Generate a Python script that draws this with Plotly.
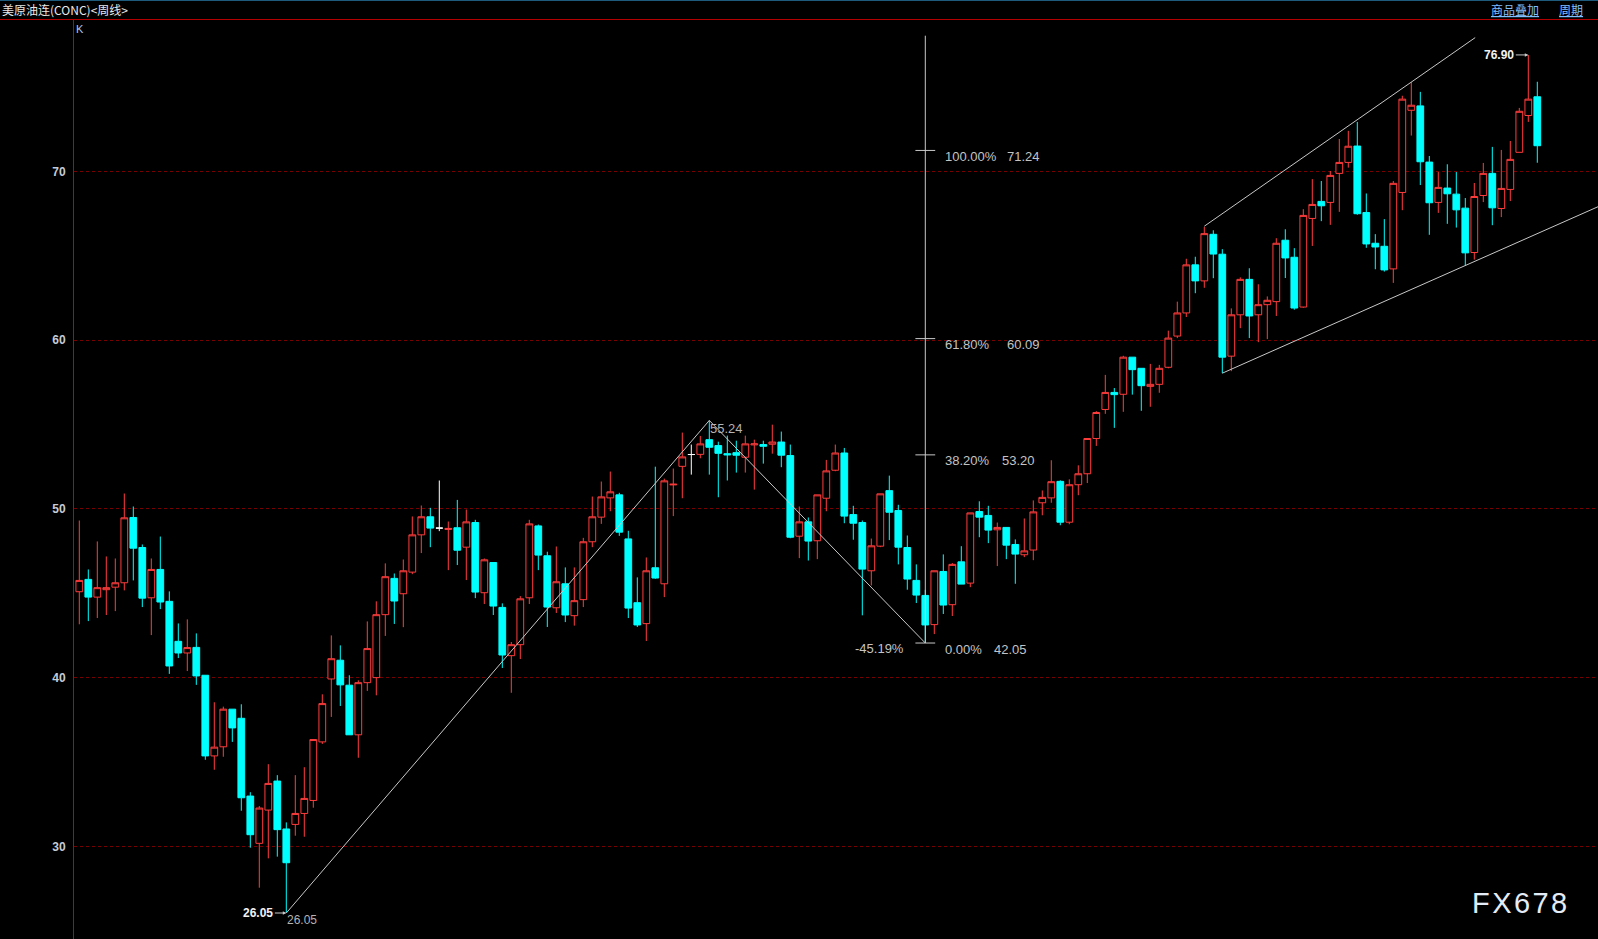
import plotly.graph_objects as go

# ---------------- data (weekly OHLC) ----------------
opens = [45.09, 45.82, 44.77, 45.21, 45.36, 45.62, 49.49, 47.71, 44.73, 46.41,
         44.52, 42.15, 41.46, 41.79, 40.14, 35.36, 35.90, 38.13, 37.59, 32.98,
         30.18, 32.15, 33.87, 31.03, 31.30, 31.95, 32.72, 36.19, 39.92, 41.03,
         39.55, 36.61, 39.70, 40.00, 43.73, 45.88, 44.97, 46.25, 48.46, 49.53,
         48.86, 48.78, 48.88, 47.73, 49.19, 45.03, 46.82, 44.16, 41.30, 41.95,
         44.73, 48.99, 47.22, 44.14, 45.56, 43.67, 44.62, 48.05, 49.51, 50.65,
         50.83, 48.22, 44.44, 43.20, 46.51, 45.56, 51.42, 52.52, 53.22, 53.23,
         54.10, 53.75, 53.27, 53.33, 53.06, 53.79, 53.81, 53.83, 53.96, 53.16,
         48.38, 49.23, 48.11, 50.63, 52.29, 53.31, 49.66, 49.19, 46.33, 47.79,
         51.08, 49.90, 47.71, 45.76, 44.87, 43.14, 46.29, 44.32, 46.86, 45.60,
         49.84, 49.61, 48.76, 48.90, 47.89, 47.28, 47.56, 50.36, 50.65, 51.63,
         49.21, 51.43, 52.08, 54.17, 55.89, 56.90, 56.79, 58.99, 58.33, 57.26,
         57.38, 58.39, 60.24, 61.61, 64.46, 63.51, 66.27, 65.09, 59.05, 61.50,
         63.60, 61.50, 62.10, 62.28, 65.92, 64.91, 61.96, 67.21, 68.22, 68.16,
         69.88, 70.53, 71.50, 67.56, 65.74, 65.56, 64.22, 68.75, 73.62, 73.88,
         70.55, 68.16, 69.01, 68.65, 67.82, 65.19, 68.57, 69.88, 67.80, 68.93,
         71.13, 73.31, 74.42]
highs = [49.31, 46.41, 48.07, 47.18, 47.06, 50.91, 50.14, 47.89, 47.06, 48.36,
         45.11, 43.21, 43.45, 42.62, 40.14, 38.54, 38.28, 38.13, 38.42, 33.21,
         32.39, 34.87, 34.22, 31.42, 34.22, 34.69, 36.33, 39.01, 42.50, 41.91,
         40.14, 39.84, 43.33, 44.52, 46.77, 46.17, 47.00, 49.55, 50.20, 50.06,
         51.68, 49.25, 50.53, 49.96, 49.35, 47.06, 46.82, 44.40, 42.11, 44.83,
         49.35, 49.07, 47.46, 47.77, 46.53, 46.53, 48.28, 50.73, 51.62, 52.21,
         50.95, 48.70, 45.94, 47.12, 52.50, 51.79, 52.39, 54.52, 53.81, 54.32,
         55.24, 53.98, 54.34, 54.04, 54.34, 54.10, 54.04, 54.99, 54.58, 53.81,
         50.14, 49.49, 50.83, 52.90, 53.81, 53.61, 50.18, 49.31, 48.24, 50.89,
         51.97, 50.24, 48.42, 46.71, 45.20, 46.33, 47.30, 46.79, 47.79, 49.76,
         50.45, 50.18, 49.19, 48.90, 48.19, 49.43, 50.50, 51.09, 52.88, 51.69,
         51.75, 52.58, 54.17, 55.79, 57.94, 57.16, 59.07, 58.99, 58.33, 58.59,
         58.53, 60.56, 62.28, 64.82, 64.94, 66.71, 66.51, 65.39, 61.88, 63.72,
         64.26, 63.31, 62.59, 66.04, 66.57, 65.45, 67.76, 69.54, 69.43, 70.02,
         71.92, 72.40, 72.93, 68.69, 66.28, 67.17, 69.43, 74.48, 75.29, 74.71,
         70.91, 69.96, 70.42, 69.96, 68.42, 69.31, 70.50, 71.45, 71.27, 71.80,
         73.76, 76.90, 75.31]
lows = [43.16, 43.35, 43.53, 43.71, 43.94, 45.17, 45.76, 44.18, 42.52, 44.06,
        40.22, 41.16, 40.39, 39.57, 35.13, 34.54, 35.31, 36.19, 32.11, 29.92,
        27.55, 29.29, 29.39, 26.05, 30.63, 30.57, 32.29, 36.07, 37.67, 38.32,
        36.61, 35.25, 39.21, 38.95, 42.47, 43.18, 42.99, 46.13, 47.38, 47.73,
        48.68, 46.37, 46.67, 45.78, 44.71, 44.36, 43.71, 40.57, 39.10, 41.10,
        44.36, 46.37, 43.00, 43.83, 43.29, 43.08, 44.18, 47.73, 49.11, 49.86,
        48.40, 43.53, 43.00, 42.17, 45.86, 44.77, 49.57, 50.63, 52.03, 53.00,
        52.03, 50.69, 51.68, 52.15, 52.15, 51.14, 52.68, 53.27, 52.47, 48.26,
        47.08, 46.94, 47.02, 49.86, 52.23, 49.15, 48.17, 43.69, 45.46, 47.73,
        48.15, 46.71, 45.21, 44.42, 42.05, 42.58, 43.77, 43.65, 45.54, 45.36,
        48.32, 47.97, 46.61, 47.02, 45.56, 47.14, 46.96, 49.62, 50.36, 49.03,
        49.09, 50.81, 51.53, 53.73, 55.63, 54.80, 55.75, 56.77, 55.81, 56.05,
        56.88, 58.33, 60.12, 61.37, 62.78, 63.10, 63.67, 58.04, 58.16, 60.71,
        60.12, 59.88, 60.06, 61.43, 63.68, 61.80, 61.92, 65.58, 67.05, 66.83,
        67.60, 70.22, 67.43, 65.47, 64.20, 64.06, 63.39, 67.70, 72.12, 69.19,
        66.24, 67.54, 66.89, 66.67, 64.42, 64.77, 68.18, 66.81, 67.29, 68.24,
        71.13, 72.93, 70.51]
closes = [45.76, 44.77, 45.33, 45.33, 45.62, 49.47, 47.67, 44.71, 46.41, 44.48,
          40.69, 41.46, 41.78, 40.10, 35.36, 35.88, 38.13, 37.02, 32.88, 30.69,
          32.27, 33.73, 30.99, 29.03, 31.95, 32.84, 36.33, 38.46, 41.12, 39.57,
          36.61, 39.70, 41.72, 43.73, 45.98, 44.54, 46.33, 48.46, 49.53, 48.86,
          48.86, 48.84, 47.55, 49.23, 45.07, 46.98, 44.24, 41.34, 41.95, 44.67,
          49.11, 47.26, 44.18, 45.68, 43.71, 44.56, 48.05, 49.53, 50.71, 51.01,
          48.62, 44.12, 43.12, 46.33, 45.90, 51.66, 51.46, 53.08, 53.22, 53.85,
          53.65, 53.29, 53.20, 53.18, 53.85, 53.85, 53.71, 53.96, 53.18, 48.32,
          49.23, 48.09, 50.83, 52.25, 53.31, 49.57, 49.15, 46.43, 47.81, 50.89,
          49.80, 47.73, 45.84, 44.89, 43.12, 46.33, 44.30, 46.71, 45.54, 49.76,
          49.51, 48.74, 48.90, 47.85, 47.32, 47.51, 49.82, 50.68, 51.61, 49.21,
          51.43, 52.08, 54.17, 55.71, 56.90, 56.77, 58.99, 58.25, 57.30, 57.38,
          58.33, 60.12, 61.61, 64.46, 63.51, 66.31, 65.10, 58.99, 61.50, 63.60,
          61.43, 62.10, 62.36, 65.74, 64.87, 61.90, 67.39, 68.04, 67.96, 69.76,
          70.53, 71.49, 67.49, 65.70, 65.52, 64.16, 69.29, 74.28, 73.92, 70.57,
          68.14, 69.05, 68.67, 67.72, 65.17, 68.51, 69.88, 67.84, 68.99, 70.71,
          73.56, 74.28, 71.52]
weeks = list(range(1, len(opens) + 1))
doji_weeks = [41, 69]          # open == close, drawn white

y_ticks = [30, 40, 50, 60, 70]

# Fibonacci retracement (from swing 71 high to week 95 low)
fib_pcts = ["100.00%", "61.80%", "38.20%", "0.00%"]
fib_vals = [71.24, 60.09, 53.20, 42.05]
fib_week = 95
fib_top = 78.04
fib_change = "-45.19%"

low_week, low_val = 24, 26.05
peak_week, peak_val = 71, 55.24
high_week, high_val = 162, 76.90
upper_chan = [(126, 66.75), (149, 75.29)]
lower_chan = [(128, 58.04), (155, 64.42)]

title_text = "美原油连(CONC)<周线>"

# ---------------- layout geometry ----------------
W, H = 1598, 939
ML, MT = 74, 20
X_RANGE = [0.411, 0.411 + (W - ML) / 9.0]
Y_RANGE = [24.51, 78.97]


def px(X):
    return (X - ML) / (W - ML)


def py(Y):
    return (H - Y) / (H - MT)


RED = "#ff3c3c"
CYAN = "#00ffff"
LINE = "#c8c8c8"
TXT = "#c4c4c4"

main_idx = [i for i, w in enumerate(weeks) if w not in doji_weeks]
doji_idx = [i for i, w in enumerate(weeks) if w in doji_weeks]


def pick(arr, idx):
    return [arr[i] for i in idx]


fig = go.Figure()
fig.add_trace(go.Candlestick(
    x=pick(weeks, main_idx), open=pick(opens, main_idx), high=pick(highs, main_idx),
    low=pick(lows, main_idx), close=pick(closes, main_idx),
    increasing=dict(line=dict(color=RED, width=1), fillcolor="#000000"),
    decreasing=dict(line=dict(color=CYAN, width=1), fillcolor=CYAN),
    whiskerwidth=0, hoverinfo="skip", showlegend=False,
))
fig.add_trace(go.Candlestick(
    x=pick(weeks, doji_idx), open=pick(opens, doji_idx), high=pick(highs, doji_idx),
    low=pick(lows, doji_idx), close=pick(closes, doji_idx),
    increasing=dict(line=dict(color="#ffffff", width=1), fillcolor="#ffffff"),
    decreasing=dict(line=dict(color="#ffffff", width=1), fillcolor="#ffffff"),
    whiskerwidth=0, hoverinfo="skip", showlegend=False,
))

shapes = []
# header lines
shapes.append(dict(type="line", xref="paper", yref="paper", x0=px(0), x1=px(W),
                   y0=py(0.5), y1=py(0.5), line=dict(color="#1d5a7c", width=1)))
shapes.append(dict(type="line", xref="paper", yref="paper", x0=px(0), x1=px(W),
                   y0=py(19.5), y1=py(19.5), line=dict(color="#b40000", width=1)))
# trend lines
shapes.append(dict(type="line", x0=low_week, y0=low_val, x1=peak_week, y1=peak_val,
                   line=dict(color=LINE, width=1)))
shapes.append(dict(type="line", x0=peak_week, y0=peak_val, x1=fib_week, y1=fib_vals[-1],
                   line=dict(color=LINE, width=1)))
# fibonacci vertical + ticks
shapes.append(dict(type="line", x0=fib_week, y0=fib_vals[-1], x1=fib_week, y1=fib_top,
                   line=dict(color=LINE, width=1)))
for v in fib_vals:
    shapes.append(dict(type="line", x0=fib_week - 1.1, x1=fib_week + 1.1, y0=v, y1=v,
                       line=dict(color=LINE, width=1)))
# channel lines
(ux0, uy0), (ux1, uy1) = upper_chan
us = (uy1 - uy0) / (ux1 - ux0)
shapes.append(dict(type="line", x0=ux0, y0=uy0, x1=156.1, y1=uy0 + us * (156.1 - ux0),
                   line=dict(color=LINE, width=1)))
(lx0, ly0), (lx1, ly1) = lower_chan
ls = (ly1 - ly0) / (lx1 - lx0)
shapes.append(dict(type="line", x0=lx0, y0=ly0, x1=175, y1=ly0 + ls * (175 - lx0),
                   line=dict(color=LINE, width=1)))

fnt = "Liberation Sans"
ann = []
# header texts
ann.append(dict(xref="paper", yref="paper", x=px(0), y=py(9.5), xanchor="left", yanchor="middle",
                text=title_text, showarrow=False,
                font=dict(family="Noto Sans CJK SC", size=12, color="#e8e8e8")))
ann.append(dict(xref="paper", yref="paper", x=px(1514.5), y=py(9.5), xanchor="center", yanchor="middle",
                text="<u>商品叠加</u>", showarrow=False,
                font=dict(family="Noto Sans CJK SC", size=12, color="#80bfff")))
ann.append(dict(xref="paper", yref="paper", x=px(1571), y=py(9.5), xanchor="center", yanchor="middle",
                text="<u>周期</u>", showarrow=False,
                font=dict(family="Noto Sans CJK SC", size=12, color="#80bfff")))
ann.append(dict(xref="paper", yref="paper", x=px(79.5), y=py(29.5), xanchor="center", yanchor="middle",
                text="K", showarrow=False, font=dict(family=fnt, size=11, color="#a9c8ea")))
# fib labels
fib_val_x = [1006.9, 1006.9, 1001.8, 993.6]
fib_x_pix = 79.3 + 9 * (fib_week - 1)
for p, v, vx in zip(fib_pcts, fib_vals, fib_val_x):
    ann.append(dict(x=fib_week, y=v, xanchor="left", yanchor="middle", xshift=944.7 - fib_x_pix - 2,
                    yshift=-6, text=p, showarrow=False, font=dict(family=fnt, size=13, color=TXT)))
    ann.append(dict(x=fib_week, y=v, xanchor="left", yanchor="middle", xshift=vx - fib_x_pix - 2,
                    yshift=-6, text=f"{v:.2f}", showarrow=False, font=dict(family=fnt, size=13, color=TXT)))
ann.append(dict(x=fib_week, y=fib_vals[-1], xanchor="right", yanchor="middle", xshift=904 - fib_x_pix + 2,
                yshift=-5, text=fib_change, showarrow=False, font=dict(family=fnt, size=13, color=TXT)))
# peak / low labels
ann.append(dict(x=peak_week, y=peak_val, xanchor="left", yanchor="top", xshift=-1, yshift=1,
                text=f"{peak_val:.2f}", showarrow=False, font=dict(family=fnt, size=13, color="#b4b4b4")))
ann.append(dict(x=low_week, y=low_val, xanchor="left", yanchor="top", xshift=-1, yshift=2,
                text=f"{low_val:.2f}", showarrow=False, font=dict(family=fnt, size=12, color="#b4b4b4")))
ann.append(dict(x=low_week, y=low_val, text=f"<b>{low_val:.2f}</b>", showarrow=True, ax=-28, ay=0,
                arrowhead=2, arrowsize=0.7, arrowwidth=1, arrowcolor=LINE, standoff=0,
                font=dict(family=fnt, size=12, color="#f2f2f2")))
ann.append(dict(x=high_week, y=high_val, text=f"<b>{high_val:.2f}</b>", showarrow=True, ax=-29, ay=0,
                arrowhead=2, arrowsize=0.7, arrowwidth=1, arrowcolor=LINE, standoff=0,
                font=dict(family=fnt, size=12, color="#f2f2f2")))
# watermark
ann.append(dict(xref="paper", yref="paper", x=px(1519), y=py(902.5), xanchor="center", yanchor="middle",
                text="\u200a".join("FX678"), showarrow=False,
                font=dict(family="Liberation Sans", size=29, color="#e4ecf8")))

fig.update_layout(
    width=W, height=H,
    margin=dict(l=ML, r=0, t=MT, b=0, pad=0),
    paper_bgcolor="#000000", plot_bgcolor="#000000",
    boxgap=0.25, boxgroupgap=0,
    shapes=shapes, annotations=ann,
    showlegend=False,
    xaxis=dict(range=X_RANGE, visible=False, rangeslider=dict(visible=False), fixedrange=True),
    yaxis=dict(range=Y_RANGE, tickvals=y_ticks, ticktext=[str(t) for t in y_ticks],
               showgrid=True, gridcolor="#7a0000", griddash="dot", gridwidth=1,
               zeroline=False, showline=True, linecolor="#c80000", linewidth=1,
               ticks="", ticklabelstandoff=5,
               tickfont=dict(family=fnt, size=12, color="#c4ccd8", weight="bold"),
               fixedrange=True),
)

fig.write_html("out.html", config={"displayModeBar": False},
               post_script="document.body.style.margin='0';document.body.style.background='#000';")
